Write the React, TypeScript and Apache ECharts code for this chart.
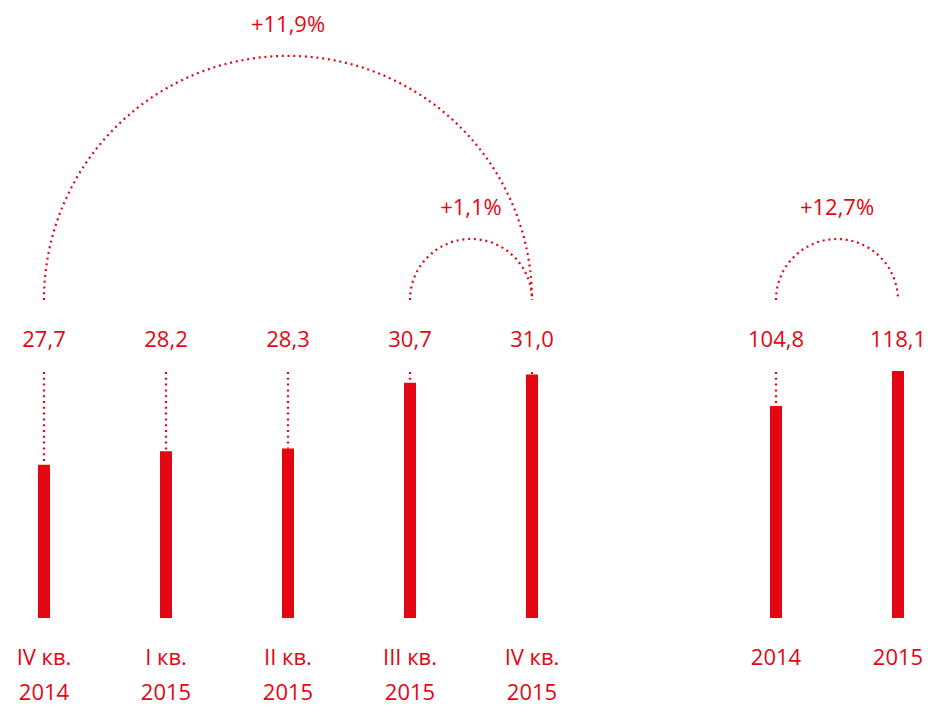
import React, { useEffect, useRef } from "react";
import * as echarts from "echarts";

const RED = "#e30613";
const FONT = "'Open Sans', sans-serif";
const FS = 22;

const categories = [
  "IV кв.\n2014",
  "I кв.\n2015",
  "II кв.\n2015",
  "III кв.\n2015",
  "IV кв.\n2015",
  "",
  "2014",
  "2015",
];
const quarterlyIdx = [0, 1, 2, 3, 4];
const quarterlyValues = [27.7, 28.2, 28.3, 30.7, 31.0];
const annualIdx = [6, 7];
const annualValues = [104.8, 118.1];
const arcFrom = [0, 3, 6];
const arcTo = [4, 4, 7];
const arcLabels = ["+11,9%", "+1,1%", "+12,7%"];

const fmt = (v: number) => v.toFixed(1).replace(".", ",");

export default function App() {
  const ref = useRef<HTMLDivElement>(null);
  useEffect(() => {
    if (!ref.current) return;
    const chart = echarts.init(ref.current, null, { renderer: "svg" });

    const quarterBars: (number | null)[] = categories.map(() => null);
    quarterlyIdx.forEach((i, k) => (quarterBars[i] = quarterlyValues[k]));
    const annualBars: (number | null)[] = categories.map(() => null);
    annualIdx.forEach((i, k) => (annualBars[i] = annualValues[k]));

    const connector = (params: any, api: any) => {
      const idx = api.value(0);
      const v = api.value(1);
      const top = api.coord([idx, v]);
      const cs = params.coordSys;
      const x = top[0];
      return {
        type: "group",
        children: [
          {
            type: "line",
            shape: { x1: x, y1: cs.y + 1, x2: x, y2: top[1] },
            style: { stroke: RED, lineWidth: 2.2, lineDash: [2, 3.8] },
          },
          {
            type: "text",
            style: {
              text: fmt(v),
              x,
              y: cs.y - 33,
              align: "center",
              verticalAlign: "middle",
              fill: RED,
              fontSize: FS,
              fontFamily: FONT,
            },
          },
        ],
      };
    };

    chart.setOption({
      animation: false,
      grid: { left: 44, right: 46, top: 371, bottom: 106 },
      xAxis: {
        type: "category",
        data: categories,
        boundaryGap: false,
        axisLine: { show: false },
        axisTick: { show: false },
        splitLine: { show: false },
        axisLabel: {
          interval: 0,
          color: RED,
          fontSize: FS,
          fontFamily: FONT,
          lineHeight: 35,
          margin: 20,
        },
      },
      yAxis: [
        { type: "value", min: 22.1, max: 31.13, show: false },
        { type: "value", min: 24.25, max: 118.1, show: false },
      ],
      series: [
        {
          type: "bar",
          yAxisIndex: 0,
          data: quarterBars,
          barWidth: 12,
          barGap: "-100%",
          itemStyle: { color: RED },
        },
        {
          type: "bar",
          yAxisIndex: 1,
          data: annualBars,
          barWidth: 12,
          barGap: "-100%",
          itemStyle: { color: RED },
        },
        {
          type: "custom",
          yAxisIndex: 0,
          clip: false,
          data: quarterlyIdx.map((i, k) => [i, quarterlyValues[k]]),
          renderItem: connector,
          z: 1,
        },
        {
          type: "custom",
          yAxisIndex: 1,
          clip: false,
          data: annualIdx.map((i, k) => [i, annualValues[k]]),
          renderItem: connector,
          z: 1,
        },
        {
          type: "custom",
          yAxisIndex: 0,
          clip: false,
          data: arcFrom.map((f, k) => [f, arcTo[k]]),
          renderItem: (params: any, api: any) => {
            const f = api.value(0);
            const t = api.value(1);
            const x1 = api.coord([f, 25])[0];
            const x2 = api.coord([t, 25])[0];
            const cs = params.coordSys;
            const cx = (x1 + x2) / 2;
            const r = (x2 - x1) / 2;
            const cy = cs.y - 71;
            return {
              type: "group",
              children: [
                {
                  type: "arc",
                  shape: { cx, cy, r, startAngle: Math.PI, endAngle: 2 * Math.PI, clockwise: true },
                  style: { stroke: RED, lineWidth: 2.2, lineDash: [2, 3.8], fill: "none" },
                },
                {
                  type: "text",
                  style: {
                    text: arcLabels[params.dataIndex],
                    x: cx,
                    y: cy - r - 33,
                    align: "center",
                    verticalAlign: "middle",
                    fill: RED,
                    fontSize: FS,
                    fontFamily: FONT,
                  },
                },
              ],
            };
          },
        },
      ],
    });
    return () => chart.dispose();
  }, []);
  return (
    <div
      ref={ref}
      style={{ position: "fixed", left: 0, top: 0, width: 944, height: 724, background: "#fff" }}
    />
  );
}
